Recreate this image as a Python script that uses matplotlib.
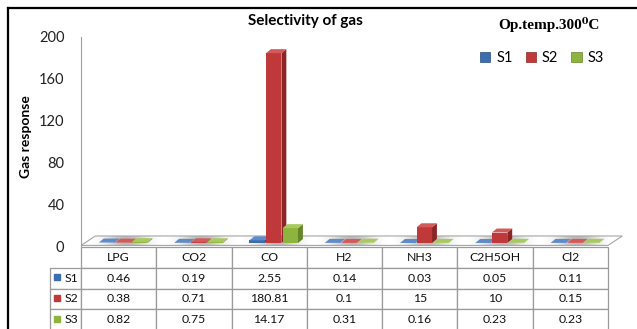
import matplotlib.pyplot as plt
import numpy as np
from matplotlib.lines import Line2D
from matplotlib.patches import Patch, Polygon

plt.rcParams["font.family"] = ["Lato", "DejaVu Sans"]

# gas response of the three sensors at 300 C
gases = ["LPG", "CO2", "CO", "H2", "NH3", "C2H5OH", "Cl2"]
s1 = [0.46, 0.19, 2.55, 0.14, 0.03, 0.05, 0.11]
s2 = [0.38, 0.71, 180.81, 0.1, 15, 10, 0.15]
s3 = [0.82, 0.75, 14.17, 0.31, 0.16, 0.23, 0.23]
series_names = ["S1", "S2", "S3"]
yticks = [0, 40, 80, 120, 160, 200]

# front, side, top face colours per series
FACES = [
    ("#3C6DB0", "#284C7E", "#5F8BC8"),
    ("#C0393A", "#8C2626", "#D45A5A"),
    ("#8DB43C", "#66852A", "#A8C95E"),
]

W, H = 637, 329
BAR_W = 0.205
OFFSETS = [0.34, 0.56, 0.78]
BASE = 3.8          # bars stand a little behind the floor's front edge
DEPTH_X, DEPTH_Y = 0.065, 3.8
FLOOR_FRONT, FLOOR_BACK, FLOOR_SHIFT = 1.5, 10.5, 0.19


def bar3d(ax, x, value, faces):
    front, side, top = faces
    y0, y1 = BASE, BASE + value
    ax.add_patch(Polygon([(x, y0), (x + BAR_W, y0), (x + BAR_W, y1), (x, y1)],
                         closed=True, facecolor=front, edgecolor="none", zorder=3))
    ax.add_patch(Polygon([(x + BAR_W, y0), (x + BAR_W + DEPTH_X, y0 + DEPTH_Y),
                          (x + BAR_W + DEPTH_X, y1 + DEPTH_Y), (x + BAR_W, y1)],
                         closed=True, facecolor=side, edgecolor="none", zorder=3))
    ax.add_patch(Polygon([(x, y1), (x + BAR_W, y1), (x + BAR_W + DEPTH_X, y1 + DEPTH_Y),
                          (x + DEPTH_X, y1 + DEPTH_Y)],
                         closed=True, facecolor=top, edgecolor="none", zorder=3))


fig = plt.figure(figsize=(W / 100, H / 100), dpi=100)
ax = fig.add_axes([81 / W, (H - 247) / H, 527 / W, 210 / H])

# floor slab with a soft grey/white sheen
n = len(gases)
floor = Polygon([(0, FLOOR_FRONT), (n, FLOOR_FRONT), (n + FLOOR_SHIFT, FLOOR_BACK),
                 (FLOOR_SHIFT, FLOOR_BACK)], closed=True, facecolor="none",
                edgecolor="#A6A6A6", linewidth=0.8, zorder=2.5, clip_on=False)
ax.add_patch(floor)
xs = np.linspace(0, n + FLOOR_SHIFT, 600)
sheen = 0.5 + 0.5 * np.cos(2 * np.pi * (xs - 0.1))
img = ax.imshow(sheen[None, :], cmap="Greys_r", vmin=-1.6, vmax=1.0, aspect="auto",
                extent=[0, n + FLOOR_SHIFT, FLOOR_FRONT, FLOOR_BACK], zorder=2,
                interpolation="bilinear")
img.set_clip_path(floor)
ax.set_xlim(0, n)
ax.set_ylim(0, 200)

for i in range(n):
    for k, vals in enumerate([s1, s2, s3]):
        bar3d(ax, i + OFFSETS[k] - BAR_W / 2, vals[i], FACES[k])

for side in ["top", "right", "bottom"]:
    ax.spines[side].set_visible(False)
ax.spines["left"].set_color("#A0A0A0")
ax.set_xticks([])
ax.set_yticks(yticks)
ax.tick_params(axis="y", length=0, pad=12, labelsize=10.5, labelcolor="#222222")

# data table under the floor
cell_text = [[name] + [f"{v:g}" for v in vals]
             for name, vals in zip(series_names, [s1, s2, s3])]
col_w = [31] + [75.3] * n
tab = ax.table(cellText=cell_text, colLabels=[""] + gases, cellLoc="center",
               colWidths=[c / sum(col_w) for c in col_w],
               bbox=[-31 / 527, -83 / 210, 558 / 527, 83 / 210])
tab.auto_set_font_size(False)
for (r, c), cell in tab.get_celld().items():
    cell.set_edgecolor("#9A9A9A")
    cell.set_linewidth(0.9)
    cell.get_text().set_fontsize(8.8)
    cell.get_text().set_color("#111111")
    if r == 0 and c == 0:
        cell.visible_edges = "open"
    if c == 0 and r > 0:
        cell.get_text().set_ha("right")
        cell._loc = "right"
        cell.PAD = 0.1

# colour keys in the table's row labels
for k in range(3):
    yc = (247 - (267 + 20.75 * k + 10.4)) / 210
    ax.plot([-24.5 / 527], [yc], marker="s", markersize=4, color=FACES[k][0],
            transform=ax.transAxes, clip_on=False, zorder=5)

fig.text(305 / W, 1 - 21 / H, "Selectivity of gas", ha="center", va="center",
         fontsize=11, fontweight="bold")
fig.text(549 / W, 1 - 25 / H, "Op.temp.300\u2070C", ha="center", va="center",
         fontsize=11, fontweight="bold", family=["Liberation Serif", "DejaVu Serif"])
fig.text(26 / W, 1 - 137 / H, "Gas response", ha="center", va="center",
         rotation=90, fontsize=10, fontweight="bold")

handles = [Patch(facecolor=f[0], edgecolor=f[1], linewidth=0.5) for f in FACES]
fig.legend(handles, series_names, ncol=3, loc="center", frameon=False,
           bbox_to_anchor=(542 / W, 1 - 58 / H), fontsize=10.5, handlelength=0.7,
           handleheight=0.7, handletextpad=0.4, columnspacing=0.9)

# outer frame
fig.add_artist(Line2D([8 / W, 1], [1 - 8 / H, 1 - 8 / H], color="black", linewidth=1.6))
fig.add_artist(Line2D([8 / W, 8 / W], [0, 1 - 8 / H], color="black", linewidth=1.6))

fig.savefig("out.png", dpi=100)
